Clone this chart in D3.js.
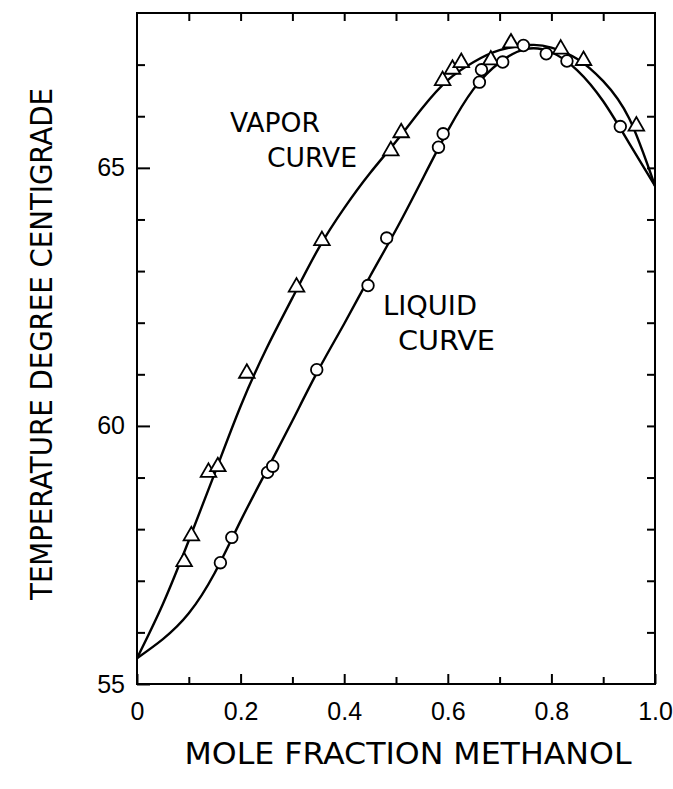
<!DOCTYPE html>
<html lang="en">
<head>
    <meta charset="UTF-8">
    <title>Methanol vapor / liquid curves</title>
    <script src="https://d3js.org/d3.v7.min.js"></script>
    <style>
        body {
            margin: 0;
            background: #fff;
        }

        svg {
            display: block;
            font-family: "DejaVu Sans Condensed", "DejaVu Sans", sans-serif;
        }

        .curve {
            fill: none;
            stroke: #000;
            stroke-width: 2.4;
        }

        .mark {
            fill: #fff;
            stroke: #000;
            stroke-width: 1.8;
        }

        .axis line {
            stroke: #000;
            stroke-width: 2;
        }

        .axis text {
            font-size: 25px;
            fill: #000;
        }

        .label {
            fill: #000;
        }
    </style>
</head>
<body>
    <svg width="673" height="789"></svg>
    <script>
        // measured points (triangles = vapor, circles = liquid)
        const vaporX = [0.091, 0.105, 0.138, 0.156, 0.212, 0.308, 0.357, 0.490, 0.510, 0.590, 0.609, 0.626, 0.683, 0.722, 0.818, 0.862, 0.964];
        const vaporT = [57.37, 57.87, 59.10, 59.21, 61.02, 62.69, 63.59, 65.33, 65.68, 66.69, 66.91, 67.04, 67.09, 67.42, 67.30, 67.08, 65.81];
        const liquidX = [0.161, 0.183, 0.252, 0.262, 0.347, 0.446, 0.482, 0.582, 0.591, 0.661, 0.665, 0.706, 0.746, 0.790, 0.830, 0.933];
        const liquidT = [57.35, 57.84, 59.10, 59.22, 61.09, 62.72, 63.64, 65.40, 65.66, 66.66, 66.90, 67.05, 67.37, 67.21, 67.07, 65.80];

        // fitted curves
        const vaporCurveX = [0, 0.05, 0.1, 0.15, 0.2, 0.25, 0.3, 0.35, 0.4, 0.45, 0.5, 0.55, 0.6, 0.65, 0.7, 0.76, 0.8, 0.85, 0.9, 0.95, 1.0];
        const vaporCurveT = [55.5, 56.55, 57.78, 59.08, 60.38, 61.5, 62.48, 63.43, 64.22, 64.9, 65.51, 66.15, 66.7, 67.05, 67.28, 67.38, 67.33, 67.11, 66.68, 65.96, 64.65];
        const liquidCurveX = [0, 0.05, 0.1, 0.15, 0.2, 0.25, 0.3, 0.35, 0.4, 0.45, 0.5, 0.55, 0.6, 0.65, 0.7, 0.75, 0.8, 0.85, 0.9, 0.95, 1.0];
        const liquidCurveT = [55.5, 55.87, 56.37, 57.15, 58.16, 59.13, 60.1, 61.08, 61.98, 62.9, 63.8, 64.76, 65.72, 66.53, 67.04, 67.3, 67.24, 66.89, 66.29, 65.48, 64.65];

        const xMajor = [0, 0.2, 0.4, 0.6, 0.8, 1.0];
        const xMajorLabels = ["0", "0.2", "0.4", "0.6", "0.8", "1.0"];
        const xMinor = [0.1, 0.3, 0.5, 0.7, 0.9];
        const yMajor = [55, 60, 65];
        const yMinor = [56, 57, 58, 59, 61, 62, 63, 64, 66, 67];

        const svg = d3.select("svg");
        const plotLeft = 137, plotRight = 655, plotTop = 13, plotBottom = 684;

        const x = d3.scaleLinear().domain([0, 1]).range([plotLeft, plotRight]);
        const y = d3.scaleLinear().domain([55, 68]).range([plotBottom, plotTop]);

        // frame
        svg.append("rect")
            .attr("x", plotLeft).attr("y", plotTop)
            .attr("width", plotRight - plotLeft).attr("height", plotBottom - plotTop)
            .attr("fill", "none").attr("stroke", "#000").attr("stroke-width", 2);

        function addAxis(axis, tx, ty) {
            const g = svg.append("g").attr("class", "axis")
                .attr("transform", `translate(${tx},${ty})`)
                .call(axis);
            g.select(".domain").remove();
            return g;
        }

        // ticks point inward on every side
        addAxis(d3.axisBottom(x).tickValues(xMajor).tickSize(-10).tickPadding(18)
            .tickFormat((d, i) => xMajorLabels[i]), 0, plotBottom);
        addAxis(d3.axisBottom(x).tickValues(xMinor).tickSize(-7).tickFormat(""), 0, plotBottom);
        addAxis(d3.axisTop(x).tickValues(xMinor.concat(xMajor.slice(1, 5))).tickSize(-8).tickFormat(""), 0, plotTop);

        addAxis(d3.axisLeft(y).tickValues(yMajor).tickSize(-13).tickPadding(12)
            .tickFormat(d3.format("d")), plotLeft, 0);
        addAxis(d3.axisLeft(y).tickValues(yMinor).tickSize(-8).tickFormat(""), plotLeft, 0);
        addAxis(d3.axisRight(y).tickValues(yMinor.concat([60, 65])).tickSize(-8).tickFormat(""), plotRight, 0);

        const line = d3.line()
            .x(d => x(d[0]))
            .y(d => y(d[1]))
            .curve(d3.curveNatural);

        svg.append("path").attr("class", "curve")
            .attr("d", line(d3.zip(vaporCurveX, vaporCurveT)));
        svg.append("path").attr("class", "curve")
            .attr("d", line(d3.zip(liquidCurveX, liquidCurveT)));

        const tri = d3.symbol(d3.symbolTriangle, 105);
        svg.append("g").selectAll("path")
            .data(d3.zip(vaporX, vaporT))
            .join("path")
            .attr("class", "mark")
            .attr("d", tri)
            .attr("transform", d => `translate(${x(d[0])},${y(d[1])})`);

        svg.append("g").selectAll("circle")
            .data(d3.zip(liquidX, liquidT))
            .join("circle")
            .attr("class", "mark")
            .attr("r", 5.8)
            .attr("cx", d => x(d[0]))
            .attr("cy", d => y(d[1]));

        // curve names
        const names = [
            { t: "VAPOR", x: 230, y: 132, w: 90 },
            { t: "CURVE", x: 267, y: 167, w: 90 },
            { t: "LIQUID", x: 383, y: 315, w: 94 },
            { t: "CURVE", x: 398, y: 350, w: 97 }
        ];
        svg.append("g").selectAll("text")
            .data(names)
            .join("text")
            .attr("class", "label")
            .attr("x", d => d.x).attr("y", d => d.y)
            .attr("font-size", 27)
            .attr("textLength", d => d.w)
            .attr("lengthAdjust", "spacingAndGlyphs")
            .text(d => d.t);

        svg.append("text")
            .attr("class", "label")
            .attr("text-anchor", "middle")
            .attr("transform", "translate(52,344) rotate(-90)")
            .attr("font-size", 31)
            .attr("textLength", 512)
            .attr("lengthAdjust", "spacingAndGlyphs")
            .text("TEMPERATURE DEGREE CENTIGRADE");

        svg.append("text")
            .attr("class", "label")
            .attr("text-anchor", "middle")
            .attr("x", 408).attr("y", 764)
            .attr("font-size", 30)
            .attr("textLength", 447)
            .attr("lengthAdjust", "spacingAndGlyphs")
            .text("MOLE FRACTION METHANOL");
    </script>
</body>
</html>
